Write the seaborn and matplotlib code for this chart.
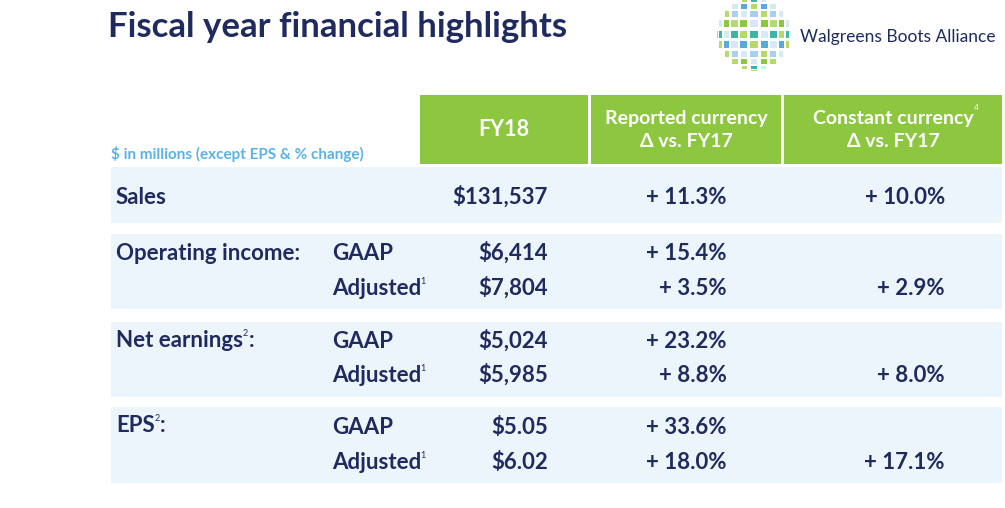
import numpy as np
import matplotlib.pyplot as plt
import matplotlib.patches as mpatches
import seaborn as sns

# table contents
group_labels = ["Sales", "Operating income:", "Net earnings", "EPS"]
group_sup = ["", "", "2", "2"]
basis = ["", "GAAP", "Adjusted", "GAAP", "Adjusted", "GAAP", "Adjusted"]
basis_sup = ["", "", "1", "", "1", "", "1"]
fy18 = ["$131,537", "$6,414", "$7,804", "$5,024", "$5,985", "$5.05", "$6.02"]
reported = ["+ 11.3%", "+ 15.4%", "+ 3.5%", "+ 23.2%", "+ 8.8%", "+ 33.6%", "+ 18.0%"]
constant = ["+ 10.0%", "", "+ 2.9%", "", "+ 8.0%", "", "+ 17.1%"]

headers = ["FY18", "Reported currency\nΔ vs. FY17", "Constant currency\nΔ vs. FY17"]

title = "Fiscal year financial highlights"
subtitle = "$ in millions (except EPS & % change)"
company = "Walgreens Boots Alliance"

NAVY = "#1f2a5e"
GREEN = "#8dc63f"
BAND = "#edf5fc"
SUB = "#5ab2e6"

sns.set_theme(style="white")
plt.rcParams["font.family"] = ["Lato", "DejaVu Sans"]

fig = plt.figure(figsize=(10.05, 5.08), dpi=100)
ax = fig.add_axes([0, 0, 1, 1])
ax.set_xlim(0, 1005)
ax.set_ylim(508, 0)
ax.axis("off")

# layout (pixels)
row_y = [197, 253, 288, 341, 375, 427, 462]
group_y = [197, 253, 340, 425]
bands = [(167, 223), (234, 309), (322, 397), (407, 483)]
x_label, x_basis, x_fy, x_rep, x_const = 116, 332, 548, 727, 945
head_cells = [(420, 588), (591, 781), (784, 1002)]
base_off = 7  # centre -> baseline

# title
ax.text(108, 27, title, fontsize=25, fontweight="bold", color=NAVY, va="center", ha="left")

# logo: checkered sphere
cx, cy, R = 754, 34, 37
logo_cols = ["#8dc63f", "#3fb3a8", "#5aa9dc", "#a9cfee", "#b7d96a", "#6f8fcf", "#d6e9f7"]
n = 11
for i in range(n):
    th = np.radians(-80 + i * 160 / (n - 1))
    for j in range(n):
        ph = np.radians(-80 + j * 160 / (n - 1))
        px = cx + R * np.sin(th) * np.cos(ph * 0.3)
        py = cy + R * np.sin(ph)
        if (px - cx) ** 2 + (py - cy) ** 2 > R ** 2:
            continue
        w = 7.5 * np.cos(th) * (0.6 + 0.4 * np.cos(ph))
        h = 7.0 * np.cos(ph)
        if (i + j) % 2:
            c = logo_cols[(i * 3 + j) % 4 + 3]
        else:
            c = logo_cols[(i * 2 + j * 3) % 4]
        ax.add_patch(mpatches.Rectangle((px - w / 2, py - h / 2), w, h, color=c, lw=0))
ax.text(800, 37, company, fontsize=12.5, color=NAVY, va="center", ha="left")

# header cells
for (x0, x1), lab in zip(head_cells, headers):
    ax.add_patch(mpatches.Rectangle((x0, 95), x1 - x0, 69, color=GREEN, lw=0))
    ax.text((x0 + x1) / 2, 130, lab, fontsize=14 if "\n" in lab else 15.5,
            fontweight="bold", color="white", ha="center", va="center", linespacing=1.45)
ax.text(976, 107, "4", fontsize=6, color="white", ha="center", va="center")

ax.text(111, 154, subtitle, fontsize=11, fontweight="bold", color=SUB,
        ha="left", va="center", parse_math=False)

# bands
for y0, y1 in bands:
    ax.add_patch(mpatches.Rectangle((111, y0), 1002 - 111, y1 - y0, color=BAND, lw=0))

kw = dict(fontsize=16, fontweight="bold", color=NAVY, va="baseline", parse_math=False)
sup_kw = dict(fontsize=6.5, color=NAVY, ha="left", va="baseline")

fig.canvas.draw()
renderer = fig.canvas.get_renderer()
inv = ax.transData.inverted()


def right_edge(t):
    bb = t.get_window_extent(renderer)
    return inv.transform((bb.x1, bb.y1))[0]


for lab, sup, y in zip(group_labels, group_sup, group_y):
    t = ax.text(x_label, y + base_off, lab, ha="left", **kw)
    if sup:
        xe = right_edge(t)
        ax.text(xe - 0.5, y - 4, sup, **sup_kw)
        ax.text(xe + 5.5, y + base_off, ":", ha="left", **kw)

for i, y in enumerate(row_y):
    if basis[i]:
        t = ax.text(x_basis, y + base_off, basis[i], ha="left", **kw)
        if basis_sup[i]:
            ax.text(right_edge(t) - 0.5, y - 4, basis_sup[i], **sup_kw)
    ax.text(x_fy, y + base_off, fy18[i], ha="right", **kw)
    ax.text(x_rep, y + base_off, reported[i], ha="right", **kw)
    if constant[i]:
        ax.text(x_const, y + base_off, constant[i], ha="right", **kw)

fig.savefig("out.png", dpi=100)
